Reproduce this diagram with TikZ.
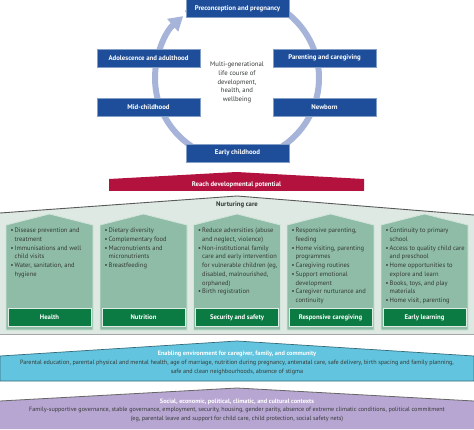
\documentclass[tikz,border=0pt]{standalone}
\usepackage{fontspec}
\setmainfont{PT Sans}
\usetikzlibrary{arrows.meta}
\definecolor{stageblue}{RGB}{30,78,154}
\definecolor{ringblue}{RGB}{167,180,217}
\definecolor{goalred}{RGB}{179,18,63}
\definecolor{carebg}{RGB}{221,233,226}
\definecolor{pillargreen}{RGB}{143,188,166}
\definecolor{areagreen}{RGB}{12,122,67}
\definecolor{envcyan}{RGB}{98,196,222}
\definecolor{ctxpurple}{RGB}{184,166,210}
\definecolor{txtgray}{RGB}{52,58,55}
\newcommand{\pbul}{\textbullet\,}
\newcommand{\pind}{\hphantom{\textbullet\,}}
\begin{document}
\begin{tikzpicture}[x=1pt,y=1pt,
    stage/.style={fill=stageblue,draw=stageblue!55!white,line width=0.5pt,minimum width=103pt,minimum height=18pt,inner sep=0pt,text=white,font=\fontsize{6.8}{8}\selectfont\bfseries},
    ring/.style={line width=6pt,draw=ringblue},
    pillar/.style={fill=pillargreen,draw=white!60!pillargreen,line width=0.8pt},
    area/.style={fill=areagreen,draw=white!70!pillargreen,line width=0.7pt,minimum width=83pt,minimum height=18pt,inner sep=0pt,text=white,font=\fontsize{6.7}{8}\selectfont\bfseries},
    items/.style={anchor=north west,align=left,inner sep=0pt,text=txtgray,font=\fontsize{6.5}{8.7}\selectfont},
    bandtext/.style={align=center,inner sep=0pt,text=txtgray,font=\fontsize{6.15}{8.8}\selectfont},
    bandtitle/.style={inner sep=0pt,text=white,font=\fontsize{6.3}{8}\selectfont\bfseries}]
    \useasboundingbox (0,0) rectangle (474,429);
    \coordinate (ctr) at (237,351);
    \draw[ring] (ctr) ++(128:82pt) arc[start angle=128,end angle=-90,radius=82pt];
    \draw[ring,-{Triangle[width=16pt,length=14pt]}] (ctr) ++(270:82pt) arc[start angle=270,end angle=131,radius=82pt];
    \node[stage] (pre) at (237.5,420.5) {Preconception and pregnancy};
    \node[stage] (adol) at (148.5,371) {Adolescence and adulthood};
    \node[stage] (par) at (324.5,371) {Parenting and caregiving};
    \node[stage] (mid) at (148.5,322) {Mid-childhood};
    \node[stage] (newb) at (324.5,322) {Newborn};
    \node[stage] (early) at (237.5,276) {Early childhood};
    \node[align=center,inner sep=0pt,text=txtgray,font=\fontsize{6.7}{8.8}\selectfont] (life) at (237,346.5)
        {Multi-generational\\life course of\\development,\\health, and\\wellbeing};
    \fill[goalred] (109,238) -- (109,250) -- (236.5,257) -- (364,250) -- (364,238) -- cycle;
    \node[bandtitle,font=\fontsize{6.7}{8}\selectfont\bfseries] (goal) at (236.5,244) {Reach developmental potential};
    \fill[carebg] (0,95) -- (0,216) -- (237,233) -- (474,214) -- (474,95) -- cycle;
    \draw[line width=0.9pt,draw=black!65] (0,216) -- (237,233) -- (474,214);
    \draw[line width=0.7pt,draw=black!35] (0,95) -- (474,95);
    \node[inner sep=0pt,text=txtgray,font=\fontsize{6.7}{8}\selectfont\bfseries] (care) at (237,224) {Nurturing care};
    \draw[pillar] (6,99) -- (6,204) -- (49.5,215) -- (93,204) -- (93,99) -- cycle;
    \draw[pillar] (100,99) -- (100,204) -- (143.5,215) -- (187,204) -- (187,99) -- cycle;
    \draw[pillar] (193.5,99) -- (193.5,204) -- (237,215) -- (280.5,204) -- (280.5,99) -- cycle;
    \draw[pillar] (287,99) -- (287,204) -- (330.5,215) -- (374,204) -- (374,99) -- cycle;
    \draw[pillar] (381,99) -- (381,204) -- (424.5,215) -- (468,204) -- (468,99) -- cycle;
    \node[area] (health) at (49.5,111.5) {Health};
    \node[area] (nutr) at (143.5,111.5) {Nutrition};
    \node[area] (safe) at (237,111.5) {Security and safety};
    \node[area] (resp) at (330.5,111.5) {Responsive caregiving};
    \node[area] (learn) at (424.5,111.5) {Early learning};
    \node[items] (hlist) at (10.5,201) {\pbul Disease prevention and\\\pind treatment\\\pbul Immunisations and well\\\pind child visits\\\pbul Water, sanitation, and\\\pind hygiene};
    \node[items] (nlist) at (104.5,201) {\pbul Dietary diversity\\\pbul Complementary food\\\pbul Macronutrients and\\\pind micronutrients\\\pbul Breastfeeding};
    \node[items] (slist) at (198,201) {\pbul Reduce adversities (abuse\\\pind and neglect, violence)\\\pbul Non-institutional family\\\pind care and early intervention\\\pind for vulnerable children (eg,\\\pind disabled, malnourished,\\\pind orphaned)\\\pbul Birth registration};
    \node[items] (rlist) at (291.5,201) {\pbul Responsive parenting,\\\pind feeding\\\pbul Home visiting, parenting\\\pind programmes\\\pbul Caregiving routines\\\pbul Support emotional\\\pind development\\\pbul Caregiver nurturance and\\\pind continuity};
    \node[items] (llist) at (385.5,201) {\pbul Continuity to primary\\\pind school\\\pbul Access to quality child care\\\pind and preschool\\\pbul Home opportunities to\\\pind explore and learn\\\pbul Books, toys, and play\\\pind materials\\\pbul Home visit, parenting};
    \draw[fill=envcyan,draw=envcyan!55!black,line width=0.7pt] (0,48) -- (0,73) -- (237,88) -- (474,73) -- (474,48) -- cycle;
    \node[bandtitle] (env) at (237,75) {Enabling environment for caregiver, family, and community};
    \node[bandtext] (envlist) at (237,61.5) {Parental education, parental physical and mental health, age of marriage, nutrition during pregnancy, antenatal care, safe delivery, birth spacing and family planning,\\safe and clean neighbourhoods, absence of stigma};
    \fill[ctxpurple] (0,0) -- (0,28) -- (237,41) -- (474,28) -- (474,0) -- cycle;
    \draw[line width=0.8pt,draw=black!60] (0,28) -- (237,41) -- (474,28);
    \node[bandtitle] (ctx) at (237,27) {Social, economic, political, climatic, and cultural contexts};
    \node[bandtext] (ctxlist) at (237,14.5) {Family-supportive governance, stable governance, employment, security, housing, gender parity, absence of extreme climatic conditions, political commitment\\(eg, parental leave and support for child care, child protection, social safety nets)};
\end{tikzpicture}
\end{document}
